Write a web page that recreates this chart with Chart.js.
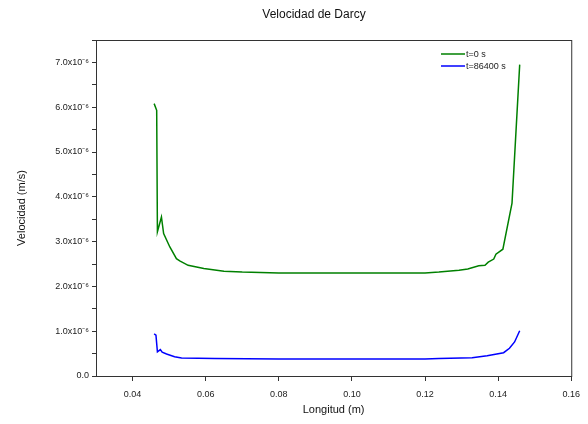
<!DOCTYPE html>
<html>
<head>
<meta charset="utf-8">
<script src="https://cdn.jsdelivr.net/npm/chart.js@4/dist/chart.umd.min.js"></script>
<style>
html,body{margin:0;padding:0;background:#fff;}
#wrap{width:588px;height:424px;}
</style>
</head>
<body>
<div id="wrap"><canvas id="c" width="588" height="424"></canvas></div>
<script>
// Longitud (m) and Velocidad (units of 1e-6 m/s)
const xT0 = [0.0459,0.0466,0.0468,0.0479,0.0485,0.0502,0.0520,0.0529,0.0552,0.0595,0.0650,0.0700,0.0800,0.0900,0.1000,0.1100,0.1200,0.1238,0.1293,0.1317,0.1347,0.1364,0.1373,0.1388,0.1394,0.1413,0.1438,0.1459];
const vT0 = [6.08,5.93,3.22,3.55,3.18,2.88,2.62,2.57,2.47,2.40,2.34,2.32,2.30,2.30,2.30,2.30,2.30,2.32,2.36,2.39,2.46,2.47,2.54,2.61,2.72,2.83,3.86,6.95];
const xT1 = [0.0459,0.0464,0.0468,0.0476,0.0481,0.0493,0.0515,0.0534,0.0625,0.0800,0.1000,0.1200,0.1238,0.1329,0.1370,0.1415,0.1431,0.1445,0.1459];
const vT1 = [0.94,0.91,0.54,0.59,0.53,0.49,0.43,0.40,0.39,0.38,0.38,0.38,0.39,0.41,0.45,0.52,0.62,0.76,1.01];
const seriesLabels = ["t=0 s","t=86400 s"];
const chartTitle = "Velocidad de Darcy";
const xTicks = [0.04,0.06,0.08,0.10,0.12,0.14,0.16];
const yTicks = [0,0.5,1,1.5,2,2.5,3,3.5,4,4.5,5,5.5,6,6.5,7,7.5];
const sup = "x10\u207B\u2076";

const FONT = "'Liberation Sans', Arial, sans-serif";

const framePlugin = {
  id: 'frame',
  afterDatasetsDraw(chart) {
    const {ctx, chartArea: a} = chart;
    ctx.save();
    ctx.strokeStyle = '#333';
    ctx.lineWidth = 1;
    ctx.strokeRect(a.left + 0.5, a.top + 0.5, a.right - a.left, a.bottom - a.top);
    ctx.restore();
  }
};

const titlePlugin = {
  id: 'mytitle',
  afterDraw(chart) {
    const {ctx} = chart;
    ctx.save();
    ctx.font = "12px " + FONT;
    ctx.fillStyle = '#111';
    ctx.textAlign = 'center';
    ctx.textBaseline = 'middle';
    ctx.fillText(chartTitle, 314, 15);
    ctx.restore();
  }
};

const legendPlugin = {
  id: 'inlegend',
  afterDatasetsDraw(chart) {
    const {ctx, chartArea: a} = chart;
    ctx.save();
    ctx.font = "9px " + FONT;
    ctx.textBaseline = 'middle';
    chart.data.datasets.forEach((ds, i) => {
      const y = a.top + 14 + i * 12;
      const x0 = a.left + 345;
      ctx.strokeStyle = ds.borderColor;
      ctx.lineWidth = 1.5;
      ctx.beginPath();
      ctx.moveTo(x0, y);
      ctx.lineTo(x0 + 24, y);
      ctx.stroke();
      ctx.fillStyle = '#222';
      ctx.fillText(ds.label, x0 + 25, y + 0.5);
    });
    ctx.restore();
  }
};

new Chart(document.getElementById('c'), {
  type: 'line',
  data: {
    datasets: [
      {label: seriesLabels[0], data: xT0.map((x,i)=>({x:x,y:vT0[i]})), borderColor:'#008000', borderWidth:1.5, pointRadius:0, tension:0, fill:false},
      {label: seriesLabels[1], data: xT1.map((x,i)=>({x:x,y:vT1[i]})), borderColor:'#0000ff', borderWidth:1.5, pointRadius:0, tension:0, fill:false}
    ]
  },
  options: {
    responsive: false,
    animation: false,
    layout: {padding: {left: 0, right: 16, top: 40, bottom: 0}},
    plugins: {
      legend: {display: false},
      tooltip: {enabled: false},
      title: {display: false}
    },
    scales: {
      x: {
        type: 'linear', min: 0.03, max: 0.16,
        afterBuildTicks(s){ s.ticks = xTicks.map(v=>({value:v})); },
        afterFit(s){ s.height = 48; },
        border: {display: true, color:'#333', width:1},
        grid: {drawOnChartArea: false, drawTicks: true, tickLength: 5, color:'#333'},
        ticks: {color:'#222', font:{family: FONT, size: 9}, padding: 8, maxRotation:0, callback: v => v.toFixed(2)},
        title: {display: true, text: 'Longitud (m)', color:'#111', font:{family: FONT, size: 11}, padding:{top: 4, bottom: 7}}
      },
      y: {
        type: 'linear', min: 0, max: 7.5,
        afterBuildTicks(s){ s.ticks = yTicks.map(v=>({value:v})); },
        afterFit(s){ s.width = 96; },
        border: {display: true, color:'#333', width:1},
        grid: {drawOnChartArea: false, drawTicks: true, tickLength: 4, color:'#333'},
        ticks: {color:'#222', font:{family: FONT, size: 9}, padding: 3, autoSkip:false,
          callback: v => (Math.abs(v - Math.round(v)) > 1e-9 ? '' : (v === 0 ? '0.0' : v.toFixed(1) + sup))},
        title: {display: true, text: 'Velocidad (m/s)', color:'#111', font:{family: FONT, size: 11}, padding:{top: 15, bottom: 0}}
      }
    }
  },
  plugins: [framePlugin, legendPlugin, titlePlugin]
});
</script>
</body>
</html>
